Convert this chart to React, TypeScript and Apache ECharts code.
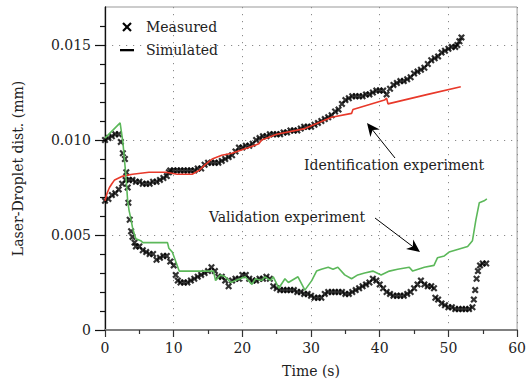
import React, { useEffect, useRef } from 'react';
import * as echarts from 'echarts';

const xMajorTicks = [0, 10, 20, 30, 40, 50, 60];
const yMajorTicks = [0, 0.005, 0.01, 0.015];
const yMinorTicks = [0.001, 0.002, 0.003, 0.004, 0.006, 0.007, 0.008, 0.009, 0.011, 0.012, 0.013, 0.014, 0.016];

const legendLabels = ['Measured', 'Simulated'];
const annotationLabels = ['Identification experiment', 'Validation experiment'];

// Identification experiment, measured (time s, distance mm)
const identMeasured: number[][] = [
  [0, 0.0068], [0.5, 0.0069], [1, 0.0071], [1.5, 0.0072], [2, 0.0074], [2.5, 0.0077], [3, 0.0079],
  [3.5, 0.0079], [4, 0.0079], [4.5, 0.0078], [5, 0.0078], [5.5, 0.0077], [6, 0.0077], [6.5, 0.0077],
  [7, 0.0078], [7.5, 0.0078], [8, 0.0079], [8.5, 0.008], [9, 0.0081], [9.3, 0.0083], [9.5, 0.0084],
  [10, 0.0084], [10.5, 0.0084], [11, 0.0084], [11.5, 0.0084], [12, 0.0084], [12.5, 0.0084], [13, 0.0084],
  [13.5, 0.0085], [14, 0.0085], [14.5, 0.0087], [15, 0.0088], [15.5, 0.0088], [16, 0.0088], [16.5, 0.0088],
  [17, 0.0089], [17.5, 0.009], [18, 0.0091], [18.5, 0.0092], [19, 0.0094], [19.5, 0.0096], [20, 0.0096],
  [20.5, 0.0097], [21, 0.0097], [21.5, 0.0098], [22, 0.01], [22.5, 0.0101], [23, 0.0102], [23.5, 0.0102],
  [24, 0.0103], [24.5, 0.0103], [25, 0.0103], [25.5, 0.0103], [26, 0.0104], [26.5, 0.0104], [27, 0.0105],
  [27.5, 0.0105], [28, 0.0105], [28.5, 0.0106], [29, 0.0107], [29.5, 0.0107], [30, 0.0107], [30.5, 0.0108],
  [31, 0.0109], [31.5, 0.011], [32, 0.0111], [32.5, 0.0112], [33, 0.0113], [33.5, 0.0115], [34, 0.0116],
  [34.5, 0.0119], [35, 0.0121], [35.5, 0.0122], [36, 0.0123], [36.5, 0.0123], [37, 0.0123], [37.5, 0.0123],
  [38, 0.0124], [38.5, 0.0124], [39, 0.0125], [39.5, 0.0126], [40, 0.0126], [40.5, 0.0126], [41, 0.0124],
  [41.5, 0.0127], [42, 0.0129], [42.5, 0.013], [43, 0.0131], [43.5, 0.0131], [44, 0.0132], [44.5, 0.0133],
  [45, 0.0135], [45.5, 0.0136], [46, 0.0137], [46.5, 0.0138], [47, 0.014], [47.5, 0.0142], [48, 0.0143],
  [48.5, 0.0144], [49, 0.0146], [49.5, 0.0147], [50, 0.0148], [50.5, 0.0149], [51, 0.0149], [51.3, 0.015],
  [51.6, 0.0152], [51.9, 0.0154],
];

// Validation experiment, measured
const validMeasured: number[][] = [
  [0, 0.01], [0.5, 0.0101], [1, 0.0102], [1.5, 0.0103], [2, 0.0103], [2.3, 0.0099], [2.6, 0.0093],
  [2.9, 0.009], [3.1, 0.0083], [3.3, 0.0075], [3.4, 0.0067], [3.6, 0.0058], [3.8, 0.0052], [4, 0.0049],
  [4.3, 0.0046], [4.5, 0.0044], [5, 0.0044], [5.5, 0.0042], [6, 0.0041], [6.5, 0.004], [7, 0.004],
  [7.5, 0.0037], [8, 0.0038], [8.5, 0.0039], [9, 0.0039], [9.5, 0.0036], [10, 0.0034], [10.3, 0.0029],
  [10.6, 0.0026], [11, 0.0025], [11.5, 0.0025], [12, 0.0025], [12.5, 0.0026], [13, 0.0027], [13.5, 0.0028],
  [14, 0.0029], [14.5, 0.003], [15, 0.0031], [15.5, 0.0033], [16, 0.0031], [16.5, 0.0028], [17, 0.0028],
  [17.5, 0.0026], [18, 0.0023], [18.5, 0.0026], [19, 0.0027], [19.5, 0.0027], [20, 0.0029], [20.5, 0.0029],
  [21, 0.0027], [21.5, 0.0026], [22, 0.0026], [22.5, 0.0027], [23, 0.0027], [23.5, 0.0028], [24, 0.0027],
  [24.5, 0.0023], [25, 0.0022], [25.5, 0.0021], [26, 0.0021], [26.5, 0.0021], [27, 0.0021], [27.5, 0.0021],
  [28, 0.002], [28.5, 0.002], [29, 0.0019], [29.5, 0.0019], [30, 0.0018], [30.5, 0.0017], [31, 0.0017],
  [31.5, 0.0017], [32, 0.0019], [32.5, 0.002], [33, 0.002], [33.5, 0.002], [34, 0.002], [34.5, 0.002],
  [35, 0.0019], [35.5, 0.0019], [36, 0.002], [36.5, 0.0021], [37, 0.0022], [37.5, 0.0023], [38, 0.0024],
  [38.5, 0.0025], [39, 0.0027], [39.5, 0.0026], [40, 0.0024], [40.5, 0.0022], [41, 0.002], [41.5, 0.0019],
  [42, 0.0018], [42.5, 0.0018], [43, 0.0018], [43.5, 0.0018], [44, 0.0019], [44.5, 0.002], [45, 0.0022],
  [45.5, 0.0024], [46, 0.0026], [46.5, 0.0024], [47, 0.0023], [47.5, 0.0023], [47.9, 0.0022], [48.1, 0.0017],
  [48.5, 0.0016], [49, 0.0014], [49.5, 0.0013], [50, 0.0012], [50.5, 0.0012], [51, 0.0011], [51.5, 0.0011],
  [52, 0.0011], [52.5, 0.0011], [53, 0.0011], [53.5, 0.0012], [53.7, 0.0016], [53.9, 0.0021], [54.1, 0.0027],
  [54.3, 0.0031], [54.6, 0.0034], [55, 0.0035], [55.5, 0.0035],
];

// Identification experiment, simulated
const identSimulated: number[][] = [
  [0, 0.0068], [0.3, 0.0072], [0.65, 0.0075], [1.0, 0.0077], [1.4, 0.0079], [2.0, 0.008], [2.6, 0.0081],
  [4.0, 0.0082], [6.4, 0.0083], [8.9, 0.0083], [10.5, 0.0082], [11.8, 0.0082], [12.7, 0.0082], [13.7, 0.0084],
  [14.6, 0.0087], [15.6, 0.009], [17.0, 0.0092], [18.5, 0.0093], [20.9, 0.0096], [22.4, 0.0098], [22.8, 0.01],
  [25, 0.0103], [29.1, 0.0106], [33.0, 0.0112], [35.9, 0.0114], [36.1, 0.0116], [40.7, 0.0121], [41.0, 0.0122],
  [41.2, 0.0119], [47.0, 0.0124], [51.8, 0.0128],
];

// Validation experiment, simulated
const validSimulated: number[][] = [
  [0, 0.0101], [2.2, 0.0109], [2.6, 0.0099], [3.0, 0.0083], [3.3, 0.0068], [3.5, 0.0063], [3.8, 0.0058],
  [4.0, 0.0054], [4.3, 0.005], [4.5, 0.0048], [5.2, 0.0047], [5.5, 0.0046], [9.1, 0.0046], [9.3, 0.0043],
  [9.8, 0.0041], [10.1, 0.0038], [10.8, 0.0031], [13.7, 0.0031], [14.6, 0.0031], [15.8, 0.0031], [16.1, 0.0026],
  [16.8, 0.0029], [17.5, 0.0028], [18.3, 0.0025], [19.0, 0.0026], [20.4, 0.0028], [21.4, 0.0024], [21.9, 0.0027],
  [22.8, 0.0026], [23.3, 0.0028], [24.1, 0.0026], [24.5, 0.0028], [25.3, 0.0022], [26.2, 0.0027], [26.7, 0.0025],
  [28.1, 0.0028], [29.1, 0.0021], [30.1, 0.0026], [30.8, 0.0031], [31.5, 0.0032], [32.5, 0.0033], [33.2, 0.0032],
  [33.9, 0.0033], [34.9, 0.0029], [35.9, 0.0027], [36.8, 0.0029], [37.8, 0.003], [39.0, 0.0031], [40.2, 0.0029],
  [41.4, 0.0031], [42.6, 0.0032], [44.3, 0.0033], [44.8, 0.0031], [46.5, 0.0033], [47.9, 0.0034], [48.4, 0.0038],
  [49.4, 0.0039], [50.1, 0.0041], [52.8, 0.0044], [53.5, 0.0047], [54.0, 0.0058], [54.5, 0.0067], [55.2, 0.0068],
  [55.6, 0.0069],
];

const X_PATH = 'path://M0,2.2L2.2,0L5,2.8L7.8,0L10,2.2L7.2,5L10,7.8L7.8,10L5,7.2L2.2,10L0,7.8L2.8,5Z';
const FONT = 'DejaVu Serif';
const FS = 14;
const TXT = '#222';

export default function App() {
  const ref = useRef<HTMLDivElement>(null);
  useEffect(() => {
    if (!ref.current) return;
    const chart = echarts.init(ref.current, undefined, { renderer: 'svg' });
    const dotted = { color: '#8a8a8a', width: 1, type: [1.2, 5.8] as number[] };
    const markerSeries = (data: number[][]) => ({
      type: 'scatter',
      data,
      symbol: X_PATH,
      symbolSize: 7,
      itemStyle: { color: '#000' },
      xAxisIndex: 0,
      yAxisIndex: 0,
      z: 2,
    });
    const lineSeries = (data: number[][], color: string) => ({
      type: 'line',
      data,
      showSymbol: false,
      symbol: 'none',
      lineStyle: { color, width: 1.6 },
      xAxisIndex: 0,
      yAxisIndex: 0,
      z: 3,
    });
    const arrow = (tip: number[], w1: number[], ind: number[], w2: number[], tail: number[]) => [
      { type: 'line', shape: { x1: ind[0], y1: ind[1], x2: tail[0], y2: tail[1] }, style: { stroke: '#000', lineWidth: 1 }, z: 100 },
      { type: 'polygon', shape: { points: [tip, w1, ind, w2] }, style: { fill: '#000' }, z: 100 },
    ];
    const txt = (x: number, y: number, text: string, align: string) => ({
      type: 'text', x, y, z: 100,
      style: { text, fontFamily: FONT, fontSize: FS, fill: TXT, align, verticalAlign: 'middle' },
    });
    chart.setOption({
      animation: false,
      backgroundColor: '#fff',
      grid: { left: 105, right: 9, top: 7, bottom: 56, show: true, borderColor: '#999', borderWidth: 1 },
      xAxis: [
        {
          type: 'value', min: 0, max: 60, interval: 10,
          name: 'Time (s)', nameLocation: 'middle', nameGap: 34,
          nameTextStyle: { fontFamily: FONT, fontSize: FS, color: TXT },
          axisLine: { lineStyle: { color: '#808080', width: 2 } },
          axisTick: { length: 7, lineStyle: { color: '#333', width: 1.2 } },
          minorTick: { show: true, splitNumber: 2, length: 4, lineStyle: { color: '#333', width: 1.2 } },
          axisLabel: { margin: 11, fontFamily: FONT, fontSize: FS, color: TXT },
          splitLine: { show: true, lineStyle: dotted },
          data: xMajorTicks,
        },
      ],
      yAxis: [
        {
          type: 'value', min: 0, max: 0.017, interval: 0.005,
          name: 'Laser-Droplet dist. (mm)', nameLocation: 'middle', nameGap: 80,
          nameTextStyle: { fontFamily: FONT, fontSize: FS, color: TXT },
          axisLine: { show: true, lineStyle: { color: '#111', width: 1.3 } },
          axisTick: { show: true, length: 10, customValues: yMajorTicks, lineStyle: { color: '#111', width: 1.2 } },
          axisLabel: {
            margin: 14, fontFamily: FONT, fontSize: FS, color: TXT, customValues: yMajorTicks,
            formatter: (v: number) => (v === 0 ? '0' : v > 0.016 ? '' : v.toFixed(3)),
          },
          splitLine: { show: true, lineStyle: dotted },
        },
        {
          type: 'value', min: 0, max: 0.017, interval: 0.001, position: 'left', offset: 0,
          axisLine: { show: false },
          axisTick: { show: true, length: 5, customValues: yMinorTicks, lineStyle: { color: '#111', width: 1.2 } },
          axisLabel: { show: false },
          splitLine: { show: false },
        },
      ],
      series: [
        markerSeries(identMeasured),
        markerSeries(validMeasured),
        lineSeries(identSimulated, '#e8392a'),
        lineSeries(validSimulated, '#5cb85a'),
      ],
      graphic: [
        // legend
        { type: 'line', shape: { x1: 123, y1: 23, x2: 131, y2: 31 }, style: { stroke: '#000', lineWidth: 2.2 }, z: 100 },
        { type: 'line', shape: { x1: 131, y1: 23, x2: 123, y2: 31 }, style: { stroke: '#000', lineWidth: 2.2 }, z: 100 },
        txt(146, 27, legendLabels[0], 'left'),
        { type: 'rect', shape: { x: 120, y: 49, width: 14, height: 2.3 }, style: { fill: '#000' }, z: 100 },
        txt(146, 49.5, legendLabels[1], 'left'),
        // annotations
        txt(394, 165, annotationLabels[0], 'center'),
        ...arrow([367, 123], [370.4, 137], [372.6, 130], [379.8, 129.5], [395, 158]),
        txt(287, 217, annotationLabels[1], 'center'),
        ...arrow([420, 252], [413.2, 239.4], [412.8, 246.6], [406, 249], [375, 218]),
      ],
    });
    return () => chart.dispose();
  }, []);
  return <div ref={ref} style={{ width: 529, height: 386, position: 'absolute', left: 0, top: 0 }} />;
}
